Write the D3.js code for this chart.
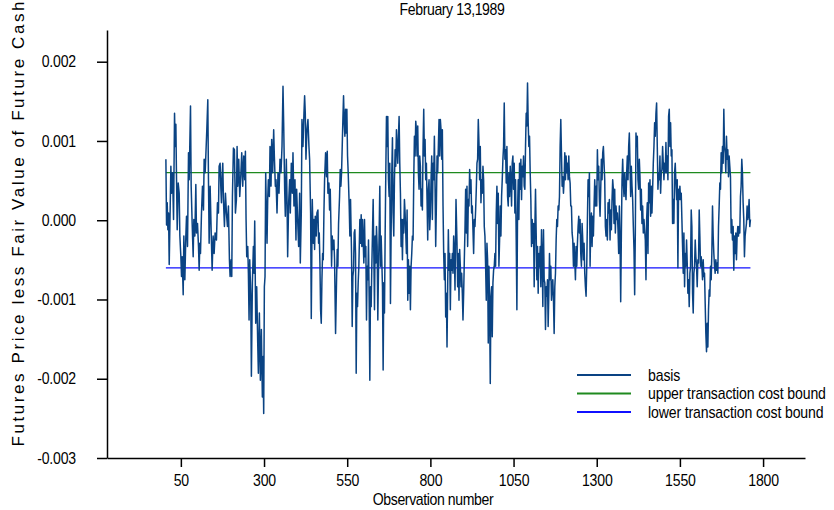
<!DOCTYPE html>
<html>
<head>
<meta charset="utf-8">
<script src="https://cdn.jsdelivr.net/npm/d3@7"></script>
<style>
body { margin: 0; background: #fff; }
text { font-family: "Liberation Sans", Arial, sans-serif; fill: #000; }
</style>
</head>
<body>
<div id="chart"></div>
<script>
var chartTitle = "February 13,1989";
var xLabel = "Observation number";
var yLabel = "Futures Price less Fair Value of Future Cash";
var xTicks = [50, 300, 550, 800, 1050, 1300, 1550, 1800];
var yTicks = [-0.003, -0.002, -0.001, 0, 0.001, 0.002];
var seriesNames = ["basis", "upper transaction cost bound", "lower transaction cost bound"];
var upperBound = 0.0006;
var lowerBound = -0.0006;
var boundRange = [5, 1762];

// [observation, basis]
var basis = [
[5,0.00077],[7,-0.00006],[9,0.00022],[11,-0.00012],[13,0.00009],[15,-0.00056],[18,0.00018],[20,0.00068],
[22,0.00034],[25,0.00060],[28,0.00001],[31,0.00135],[33,0.00093],[35,0.00121],[37,0.00051],[39,-0.00012],
[42,0.00047],[45,0.00034],[47,-0.00020],[50,-0.00046],[52,-0.00071],[54,-0.00046],[57,-0.00094],[59,-0.00020],
[62,-0.00075],[65,-0.00020],[67,0.00005],[70,-0.00033],[73,0.00085],[75,0.00051],[79,0.00144],[81,0.00043],
[84,-0.00004],[87,-0.00046],[89,0.00001],[92,-0.00020],[95,0.00045],[97,-0.00016],[100,-0.00004],[103,-0.00033],
[105,-0.00063],[107,-0.00029],[109,-0.00042],[112,0.00009],[115,0.00043],[118,0.00013],[120,0.00077],[123,0.00060],
[125,0.00081],[128,0.00114],[131,0.00152],[133,0.00051],[135,-0.00029],[138,0.00043],[141,-0.00012],[144,-0.00063],
[147,-0.00020],[150,-0.00042],[153,-0.00016],[157,-0.00025],[160,0.00022],[163,0.00009],[165,0.00068],[168,0.00072],
[170,0.00043],[172,0.00022],[174,0.00055],[176,0.00072],[178,0.00026],[181,-0.00008],[184,0.00034],[187,0.00009],
[190,-0.00008],[193,0.00018],[196,-0.00050],[198,-0.00071],[201,-0.00050],[203,-0.00071],[205,0.00030],[208,0.00091],
[211,0.00089],[214,0.00009],[217,0.00026],[219,0.00093],
[221,0.00043],[224,0.00077],[227,0.00030],[230,0.00055],[233,0.00085],[236,0.00043],[239,0.00081],[242,0.00051],
[244,0.00087],[246,0.00001],[248,-0.00046],[251,-0.00033],[253,-0.00067],[255,-0.00126],[257,-0.00050],[260,-0.00092],
[262,-0.00197],[265,-0.00079],[268,-0.00033],[270,-0.00067],[272,-0.00001],[275,-0.00130],[278,-0.00084],[281,-0.00155],
[283,-0.00193],[286,-0.00117],[289,-0.00202],[292,-0.00138],[295,-0.00223],[297,-0.00172],[299,-0.00244],[301,-0.00084],
[303,-0.00071],[305,0.00060],[307,0.00009],[309,-0.00029],[311,0.00026],[313,0.00051],[316,0.00030],[318,0.00093],
[321,0.00043],[323,0.00102],[326,0.00060],[329,0.00114],[331,0.00081],[334,0.00043],[336,0.00051],[339,0.00009],
[342,0.00060],[345,0.00034],[348,0.00077],[351,0.00060],[354,0.00093],[357,0.00169],[359,0.00123],[362,0.00039],
[364,0.00005],[367,0.00077],[369,0.00030],[371,-0.00046],[374,0.00022],[377,0.00051],[379,0.00009],[382,0.00072],
[385,0.00034],[387,0.00085],[390,0.00018],[393,0.00051],[396,-0.00025],[398,0.00039],[401,0.00001],[404,-0.00033],
[407,0.00034],[409,-0.00054],[412,0.00009],[414,0.00127],[417,0.00093],[420,0.00135],[422,0.00157],[424,0.00135],
[426,0.00077],[429,0.00114],
[432,0.00127],[435,0.00093],[437,0.00077],[440,0.00009],[442,-0.00124],[445,0.00026],[448,-0.00029],[450,0.00001],
[452,-0.00037],[454,0.00005],[457,-0.00020],[459,0.00009],[462,0.00013],[464,-0.00029],[466,-0.00016],[468,-0.00054],
[470,-0.00113],[472,-0.00130],[474,-0.00075],[476,-0.00042],[478,-0.00050],[480,0.00009],[482,0.00051],[485,0.00085],
[488,0.00055],[490,0.00087],[492,0.00034],[495,0.00047],[497,0.00013],[499,0.00039],[501,-0.00004],[503,-0.00058],
[505,-0.00020],[507,-0.00037],[510,-0.00025],[512,-0.00050],[515,-0.00143],[518,-0.00075],[520,-0.00037],[522,-0.00058],
[524,-0.00004],[527,0.00030],[529,0.00064],[531,0.00043],[533,0.00060],[535,0.00093],[537,0.00127],[539,0.00157],
[541,0.00123],[543,0.00106],[545,0.00140],[547,0.00110],[549,0.00140],[551,0.00081],[553,0.00060],[556,0.00018],
[558,-0.00020],[560,0.00026],[563,-0.00042],[565,-0.00134],[567,-0.00071],[569,-0.00063],[571,-0.00016],[573,-0.00012],
[575,-0.00042],[577,-0.00193],[579,-0.00092],[581,-0.00109],[583,-0.00079],[585,-0.00058],[588,0.00001],[590,-0.00029],
[592,0.00007],[594,-0.00033],[596,0.00001],[598,-0.00025],[600,-0.00054],[602,0.00001],[604,-0.00046],[606,-0.00033],
[608,-0.00126],[610,-0.00058],[612,-0.00075],[614,-0.00025],[616,-0.00101],[618,-0.00202],[620,-0.00084],[622,-0.00109],
[624,-0.00058],[626,-0.00016],[628,0.00026],[630,-0.00042],[632,-0.00113],[634,-0.00020],[636,-0.00054],[638,-0.00008],
[640,-0.00033],[642,-0.00126],[644,-0.00063],[646,-0.00016],[648,0.00043],[650,-0.00058],[652,-0.00020],
[656,-0.00084],[658,-0.00189],[660,-0.00079],[662,-0.00117],[664,-0.00020],[666,0.00060],[668,0.00131],[670,0.00093],
[672,0.00131],[674,0.00051],[676,0.00030],[678,0.00072],[680,-0.00105],[682,-0.00016],[684,0.00060],[686,0.00104],
[688,0.00009],[690,-0.00020],[692,0.00051],[694,0.00089],[696,0.00068],[698,0.00114],[700,0.00093],[702,0.00072],
[704,0.00106],[706,0.00131],[708,0.00072],[710,0.00034],[712,-0.00033],[714,0.00001],[716,-0.00050],[718,0.00001],
[720,-0.00016],[722,0.00026],[724,0.00009],[726,-0.00016],[728,-0.00042],[730,0.00013],[732,-0.00101],[734,-0.00050],
[736,-0.00092],[738,-0.00058],[740,-0.00113],[742,-0.00058],[744,-0.00042],[746,-0.00020],[748,-0.00025],[750,0.00051],
[752,0.00106],[754,0.00081],[756,0.00125],[758,0.00114],[760,0.00081],[762,0.00119],[764,0.00060],[766,0.00039],
[768,0.00081],[770,0.00068],[772,0.00018],[774,0.00039],[776,0.00013],[778,0.00093],[780,0.00140],[782,0.00081],
[784,0.00102],[786,0.00051],[788,0.00072],[790,0.00026],[792,-0.00025],[794,0.00039],[796,0.00051],[798,-0.00012],
[800,0.00009],[802,0.00051],[804,0.00081],[806,0.00001],[808,0.00072],[810,0.00051],[812,0.00106],[814,0.00043],
[816,-0.00033],[818,0.00018],[820,0.00081],[822,0.00060],[824,0.00093],[826,0.00127],[828,0.00081],[830,0.00127],
[832,0.00114],[834,0.00077],[836,0.00114],[838,0.00018],[840,-0.00042],[842,-0.00075],[844,-0.00042],[846,-0.00122],
[848,-0.00092],[850,-0.00160],[852,-0.00084],[854,-0.00012],[856,-0.00063],[858,-0.00042],[860,-0.00113],[862,-0.00050],
[864,-0.00063],[866,-0.00042],[868,-0.00067],[870,-0.00020],[872,-0.00037],[874,-0.00088],
[877,0.00026],[880,-0.00029],[882,-0.00084],[884,-0.00042],[886,-0.00101],[888,-0.00037],[890,-0.00058],[892,-0.00084],
[894,-0.00067],[896,-0.00092],[898,-0.00126],[900,-0.00092],[902,-0.00050],[904,-0.00012],[906,0.00039],[908,-0.00016],
[910,0.00043],[912,-0.00033],[914,0.00026],[916,0.00018],[918,0.00064],[920,0.00034],[922,0.00051],[924,0.00009],
[926,0.00018],[928,-0.00012],[930,-0.00042],[932,0.00001],[934,-0.00008],[936,0.00013],[938,0.00039],[940,0.00072],
[942,0.00077],[944,0.00127],[946,0.00098],[948,0.00051],[950,0.00093],[952,0.00022],[954,0.00051],[956,0.00034],
[958,0.00068],[960,0.00051],[962,-0.00008],[964,-0.00020],[966,-0.00058],[968,-0.00101],[970,-0.00029],[972,-0.00050],
[974,-0.00155],[976,-0.00058],[978,-0.00109],[980,-0.00206],[982,-0.00096],[984,-0.00084],[986,-0.00147],[988,-0.00079],
[990,-0.00063],[992,-0.00058],[994,-0.00042],[996,-0.00058],[998,0.00009],[1000,0.00043],[1002,-0.00004],[1004,0.00034],
[1006,-0.00058],[1008,-0.00025],[1010,0.00018],[1012,-0.00020],[1014,0.00030],[1016,0.00051],[1018,0.00077],[1020,0.00093],
[1022,0.00148],[1024,0.00077],[1026,0.00089],[1028,0.00047],[1030,0.00093],[1032,0.00030],[1034,0.00018],[1036,0.00060],
[1038,0.00030],[1040,0.00068],[1042,0.00051],[1044,0.00018],[1046,0.00072],[1048,0.00081],[1050,0.00039],[1052,0.00072],
[1054,0.00009],[1056,0.00051],[1058,-0.00025],[1060,-0.00113],[1062,0.00009],[1064,0.00051],[1066,0.00001],[1068,0.00072],
[1070,0.00039],[1072,0.00077],[1074,0.00026],[1076,0.00068],[1078,0.00055],[1080,0.00081],[1082,0.00043],[1084,0.00039],
[1086,0.00093],[1088,0.00135],[1090,0.00119],[1092,0.00173],[1094,0.00123],[1096,0.00093],[1098,0.00106],
[1100,0.00060],[1102,0.00026],[1104,-0.00033],[1106,0.00001],[1108,-0.00029],[1110,-0.00004],[1112,-0.00084],[1114,-0.00012],
[1116,0.00039],[1118,-0.00016],[1120,-0.00075],[1122,-0.00033],[1124,-0.00092],[1126,-0.00042],[1128,-0.00058],[1130,-0.00033],
[1132,-0.00084],[1134,-0.00012],[1136,-0.00046],[1138,-0.00109],[1140,-0.00012],[1142,-0.00075],[1144,-0.00079],[1146,-0.00138],
[1148,-0.00084],[1150,-0.00096],[1152,-0.00075],[1154,-0.00134],[1156,-0.00092],[1158,-0.00042],[1160,-0.00075],[1162,-0.00058],
[1164,-0.00101],[1166,-0.00084],[1168,-0.00075],[1170,-0.00101],[1172,-0.00143],[1174,-0.00084],[1176,-0.00067],[1178,-0.00025],
[1180,0.00001],[1182,-0.00008],[1184,0.00018],[1186,0.00013],[1188,0.00030],[1190,0.00093],[1192,0.00127],[1194,0.00085],
[1196,0.00043],[1198,0.00055],[1200,0.00034],[1202,0.00051],[1204,0.00085],[1206,0.00051],[1208,0.00081],[1210,0.00060],
[1212,0.00072],[1214,0.00051],[1216,0.00081],[1218,0.00055],[1220,0.00047],[1222,0.00018],[1224,0.00018],[1226,-0.00016],
[1228,-0.00025],[1230,-0.00058],[1232,-0.00029],[1234,-0.00050],[1236,-0.00075],[1238,-0.00033],[1240,-0.00058],[1242,-0.00029],
[1244,-0.00008],[1246,0.00005],[1248,-0.00016],[1250,0.00001],[1252,-0.00042],[1254,-0.00058],[1256,-0.00004],[1258,-0.00025],
[1260,-0.00050],[1262,-0.00029],[1264,-0.00067],[1266,-0.00084],[1268,-0.00096],[1270,-0.00058],[1272,0.00001],[1274,0.00051],
[1276,0.00030],[1278,0.00060],[1280,-0.00058],[1282,-0.00008],[1284,0.00009],[1286,-0.00033],[1288,0.00005],[1290,-0.00020],
[1292,0.00018],[1294,0.00051],[1296,0.00018],[1298,0.00043],[1300,0.00018],[1302,0.00089],[1304,0.00051],[1306,0.00068],
[1308,0.00026],[1310,0.00005],[1312,0.00039],[1314,0.00077],[1316,0.00051],[1318,0.00085],[1320,0.00093],
[1324,0.00051],[1326,-0.00008],[1328,-0.00020],[1330,0.00001],[1332,-0.00025],[1334,0.00022],[1336,0.00009],[1338,0.00026],
[1340,-0.00025],[1342,0.00013],[1344,-0.00012],[1346,0.00026],[1348,0.00051],[1350,0.00039],[1352,-0.00004],[1354,0.00039],
[1356,-0.00016],[1358,0.00018],[1360,0.00001],[1362,0.00009],[1364,-0.00012],[1366,-0.00042],[1368,0.00018],[1370,-0.00020],
[1372,-0.00103],[1374,-0.00020],[1376,0.00051],[1378,0.00077],[1380,0.00047],[1382,0.00030],[1384,0.00060],[1386,0.00039],
[1388,0.00026],[1390,0.00060],[1392,0.00081],[1394,0.00051],[1396,0.00093],[1398,0.00110],[1400,0.00072],[1402,0.00030],
[1404,0.00068],[1406,0.00043],[1408,0.00026],[1410,-0.00008],[1412,-0.00037],[1414,-0.00094],[1416,-0.00016],[1418,0.00110],
[1420,0.00093],[1422,0.00106],[1424,0.00051],[1426,0.00039],[1428,0.00077],[1430,0.00055],[1432,0.00013],[1434,0.00039],
[1436,-0.00004],[1438,0.00018],[1440,-0.00016],[1442,0.00001],[1444,-0.00012],[1446,-0.00025],[1448,-0.00075],[1450,0.00001],
[1452,0.00022],[1454,-0.00042],[1456,0.00047],[1458,0.00022],[1460,0.00051],[1462,0.00005],[1464,0.00043],[1466,0.00009],
[1468,0.00039],[1470,0.00072],[1472,0.00093],[1474,0.00123],[1476,0.00106],[1478,0.00135],[1480,0.00148],[1482,0.00093],
[1484,0.00039],[1486,0.00060],[1488,0.00051],[1490,0.00081],[1492,0.00034],[1494,0.00060],[1496,0.00064],[1498,0.00093],
[1500,0.00072],[1502,0.00051],[1504,0.00072],[1506,0.00060],[1508,0.00098],[1510,0.00060],[1512,0.00081],[1514,0.00051],
[1516,0.00131],[1518,0.00140],[1520,0.00093],[1522,0.00123],[1524,0.00081],[1526,0.00089],[1528,-0.00004],[1530,0.00026],
[1532,-0.00004],[1534,0.00060],[1536,0.00072],[1538,0.00047],[1540,0.00026],[1542,0.00051],[1544,-0.00060],
[1546,0.00039],[1548,0.00026],[1550,0.00043],[1552,0.00026],[1554,0.00034],[1556,0.00001],[1558,-0.00033],[1560,-0.00067],
[1562,-0.00016],[1564,-0.00084],[1566,-0.00042],[1568,-0.00058],[1570,-0.00025],[1572,-0.00054],[1574,-0.00092],[1576,-0.00075],
[1578,-0.00109],[1580,-0.00067],[1582,-0.00058],[1584,0.00013],[1586,-0.00008],[1588,-0.00092],[1590,-0.00117],[1592,-0.00067],
[1594,-0.00058],[1596,-0.00025],[1598,-0.00046],[1600,-0.00058],[1602,-0.00084],[1604,-0.00050],[1606,-0.00054],[1608,0.00013],
[1610,-0.00020],[1612,-0.00058],[1614,-0.00046],[1616,-0.00058],[1618,-0.00075],[1620,-0.00050],[1622,-0.00071],[1624,-0.00067],
[1626,-0.00105],[1628,-0.00143],[1630,-0.00166],[1632,-0.00130],[1634,-0.00160],[1636,-0.00113],[1638,-0.00088],[1640,-0.00096],
[1642,-0.00058],[1644,-0.00075],[1646,-0.00042],[1648,0.00018],[1650,-0.00020],[1652,-0.00042],[1654,-0.00058],[1656,-0.00067],
[1658,-0.00050],[1660,-0.00063],[1662,-0.00054],[1664,-0.00067],[1666,-0.00008],[1668,0.00018],[1670,0.00047],[1672,0.00039],
[1674,0.00085],[1676,0.00060],[1678,0.00093],[1680,0.00072],[1682,0.00140],[1684,0.00093],[1686,0.00085],[1688,0.00060],
[1690,0.00106],[1692,0.00077],[1694,0.00089],[1696,0.00055],[1698,0.00081],[1700,0.00068],[1702,0.00055],[1704,-0.00016],
[1706,0.00001],[1708,-0.00025],[1710,-0.00008],[1712,-0.00063],[1714,-0.00020],[1716,-0.00042],[1718,-0.00016],[1720,-0.00050],
[1722,-0.00020],[1724,-0.00008],[1726,-0.00020],[1728,-0.00008],[1730,-0.00016],[1732,0.00030],[1734,0.00043],[1736,0.00077],
[1738,0.00060],[1740,0.00022],[1742,0.00001],[1744,-0.00046],[1746,-0.00020],[1748,-0.00012],[1750,-0.00004],[1752,0.00018],
[1754,0.00001],[1756,0.00009],[1758,0.00026],[1760,-0.00008],[1762,0.00001]
];

var colors = ["#0a4383", "#1f8a1f", "#1010ff"];

var width = 834, height = 510;
var squeeze = 0.88;   // narrow look of the original lettering

var svg = d3.select("#chart").append("svg")
    .attr("width", width)
    .attr("height", height);

var x = d3.scaleLinear().domain([-172, 1926]).range([107, 805]);
var y = d3.scaleLinear().domain([-0.003, 0.0024]).range([458, 30]);

// title
svg.append("text")
    .attr("transform", "translate(452,15) scale(" + squeeze + ",1)")
    .attr("text-anchor", "middle")
    .style("font-size", "16px")
    .style("letter-spacing", "-0.45px")
    .text(chartTitle);

// bounds
var bounds = [upperBound, lowerBound];
svg.selectAll(".bound")
    .data(bounds).enter()
    .append("line")
    .attr("class", "bound")
    .attr("x1", x(boundRange[0]))
    .attr("x2", x(boundRange[1]))
    .attr("y1", function(d) { return y(d); })
    .attr("y2", function(d) { return y(d); })
    .style("stroke", function(d, i) { return colors[i + 1]; })
    .style("stroke-width", 1.3);

var line = d3.line()
    .x(function(d) { return x(d[0]); })
    .y(function(d) { return y(d[1]); });

svg.append("path")
    .datum(basis)
    .attr("d", line)
    .style("fill", "none")
    .style("stroke", colors[0])
    .style("stroke-width", 1.5)
    .style("stroke-linejoin", "round");

// axes
var yAxis = d3.axisLeft(y)
    .tickValues(yTicks)
    .tickSize(10)
    .tickSizeOuter(0)
    .tickPadding(21)
    .tickFormat(function(d) { return d.toFixed(3); });

var xAxis = d3.axisBottom(x)
    .tickValues(xTicks)
    .tickSize(9)
    .tickSizeOuter(0)
    .tickPadding(8)
    .tickFormat(d3.format("d"));

var gy = svg.append("g")
    .attr("transform", "translate(107,0)")
    .call(yAxis);

var gx = svg.append("g")
    .attr("transform", "translate(0,458)")
    .call(xAxis);

[gx, gy].forEach(function(g) {
    g.selectAll("path, line").style("stroke", "#000").style("stroke-width", 1.5);
    g.selectAll("text")
        .style("font-size", "16px")
        .style("letter-spacing", "-0.2px")
        .style("font-family", "'Liberation Sans', Arial, sans-serif")
        .attr("transform", "scale(" + squeeze + ",1)");
});
gy.selectAll("text").attr("x", -31 / squeeze);

// axis labels
svg.append("text")
    .attr("transform", "translate(433,505) scale(" + squeeze + ",1)")
    .attr("text-anchor", "middle")
    .style("font-size", "16px")
    .style("letter-spacing", "-0.45px")
    .text(xLabel);

svg.append("text")
    .attr("transform", "translate(24,224) rotate(-90)")
    .attr("text-anchor", "middle")
    .attr("textLength", 445)
    .attr("lengthAdjust", "spacing")
    .style("font-size", "17px")
    .text(yLabel);

// legend
var legend = svg.selectAll(".legend")
    .data(seriesNames).enter()
    .append("g")
    .attr("class", "legend")
    .attr("transform", function(d, i) { return "translate(577," + (375 + i * 18.5) + ")"; });

legend.append("line")
    .attr("x1", 0)
    .attr("x2", 54)
    .style("stroke", function(d, i) { return colors[i]; })
    .style("stroke-width", 2);

legend.append("text")
    .attr("transform", "translate(71,0) scale(" + squeeze + ",1)")
    .attr("dy", "0.35em")
    .style("font-size", "16px")
    .style("letter-spacing", "-0.15px")
    .text(function(d) { return d; });
</script>
</body>
</html>
